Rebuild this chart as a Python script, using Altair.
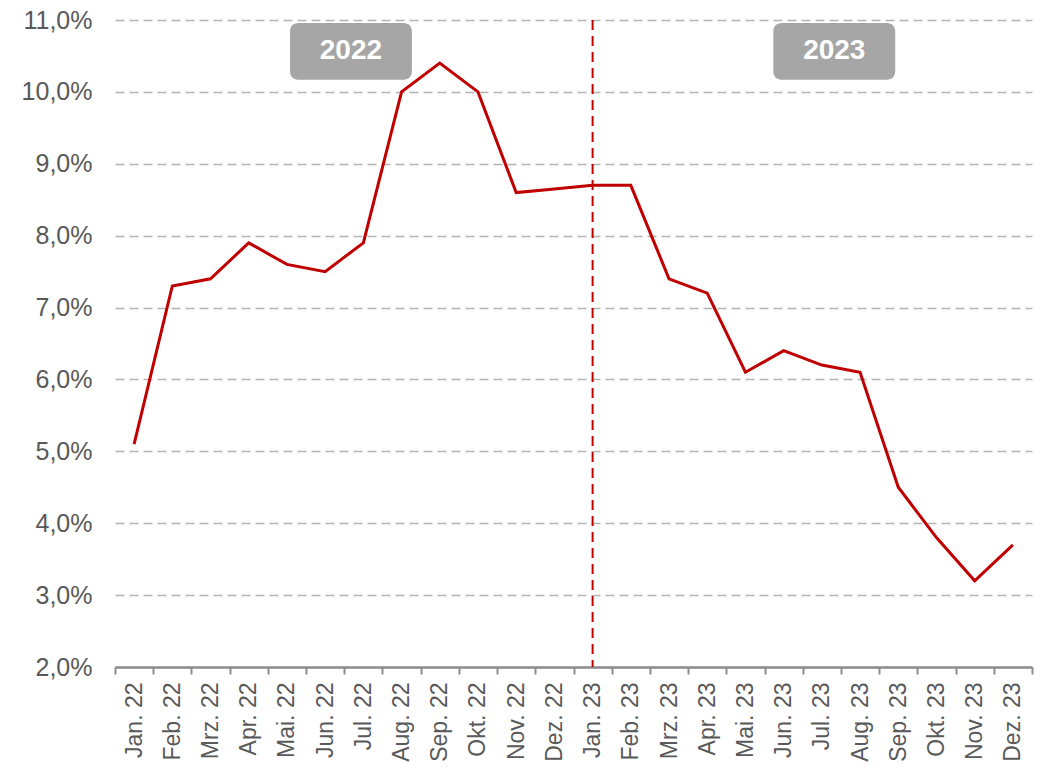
import altair as alt
import pandas as pd

months = ["Jan. 22", "Feb. 22", "Mrz. 22", "Apr. 22", "Mai. 22", "Jun. 22",
          "Jul. 22", "Aug. 22", "Sep. 22", "Okt. 22", "Nov. 22", "Dez. 22",
          "Jan. 23", "Feb. 23", "Mrz. 23", "Apr. 23", "Mai. 23", "Jun. 23",
          "Jul. 23", "Aug. 23", "Sep. 23", "Okt. 23", "Nov. 23", "Dez. 23"]
values = [5.1, 7.3, 7.4, 7.9, 7.6, 7.5, 7.9, 10.0, 10.4, 10.0, 8.6, 8.65,
          8.7, 8.7, 7.4, 7.2, 6.1, 6.4, 6.2, 6.1, 4.5, 3.8, 3.2, 3.7]

year_labels = ["2022", "2023"]
box_x0 = [4.58, 17.23]
box_x1 = [7.77, 20.42]
box_y0 = [10.17, 10.17]
box_y1 = [10.96, 10.96]

divider_month = ["Jan. 23"]

df = pd.DataFrame({"month": months, "value": values})
boxes = pd.DataFrame({
    "label": year_labels,
    "x0": box_x0, "x1": box_x1, "y0": box_y0, "y1": box_y1,
})
boxes["xc"] = (boxes["x0"] + boxes["x1"]) / 2
boxes["yc"] = (boxes["y0"] + boxes["y1"]) / 2
div = pd.DataFrame({"month": divider_month, "top": [11.0], "bottom": [2.0]})

FONT = "Liberation Sans"
W, H = 917, 647

yscale = alt.Scale(domain=[2, 11], nice=False, zero=False)
xscale = alt.Scale(type="band", domain=months, paddingInner=0, paddingOuter=0)

yaxis = alt.Axis(
    values=[2, 3, 4, 5, 6, 7, 8, 9, 10, 11],
    labelExpr="replace(format(datum.value, '.1f'), '.', ',') + '%'",
    domain=False, ticks=False, labelPadding=23,
    labelFontSize=25, labelColor="#595959", labelFont=FONT,
    grid=True, gridDash=[9, 5], gridColor="#b3b3b3", gridWidth=1.3,
    title=None,
)
xaxis = alt.Axis(
    labelAngle=-90, labelFontSize=23, labelColor="#595959", labelFont=FONT,
    labelPadding=8, tickBand="extent", ticks=True, tickSize=7, tickWidth=2,
    tickColor="#8c8c8c", domainColor="#8c8c8c", domainWidth=2.5,
    grid=False, title=None, labelOverlap=False,
)

line = alt.Chart(df).mark_line(color="#c00000", strokeWidth=3).encode(
    x=alt.X("month:N", scale=xscale, axis=xaxis, sort=months),
    y=alt.Y("value:Q", scale=yscale, axis=yaxis),
)

rule = alt.Chart(div).mark_rule(color="#c00000", strokeWidth=2, strokeDash=[10, 6]).encode(
    x=alt.X("month:N", scale=xscale, sort=months),
    y=alt.Y("top:Q", scale=yscale),
    y2="bottom:Q",
)

qx = alt.Scale(domain=[0, 24], nice=False, zero=False)
rects = alt.Chart(boxes).mark_rect(color="#a6a6a6", cornerRadius=8).encode(
    x=alt.X("x0:Q", scale=qx, axis=None),
    x2="x1:Q",
    y=alt.Y("y0:Q", scale=yscale),
    y2="y1:Q",
)
texts = alt.Chart(boxes).mark_text(
    color="white", fontSize=28, fontWeight="bold", font=FONT, baseline="middle", align="center"
).encode(
    x=alt.X("xc:Q", scale=qx, axis=None),
    y=alt.Y("yc:Q", scale=yscale),
    text="label:N",
)

annot = alt.layer(rects, texts)
main = alt.layer(line, rule)

chart = alt.layer(main, annot).resolve_scale(x="independent").properties(
    width=W, height=H,
    background="white",
    autosize=alt.AutoSizeParams(type="none"),
    padding={"left": 107, "top": 12, "right": 4, "bottom": 104},
).configure_view(strokeWidth=0, stroke="transparent")

chart.save("out.html", embed_options={"renderer": "svg", "actions": False})
